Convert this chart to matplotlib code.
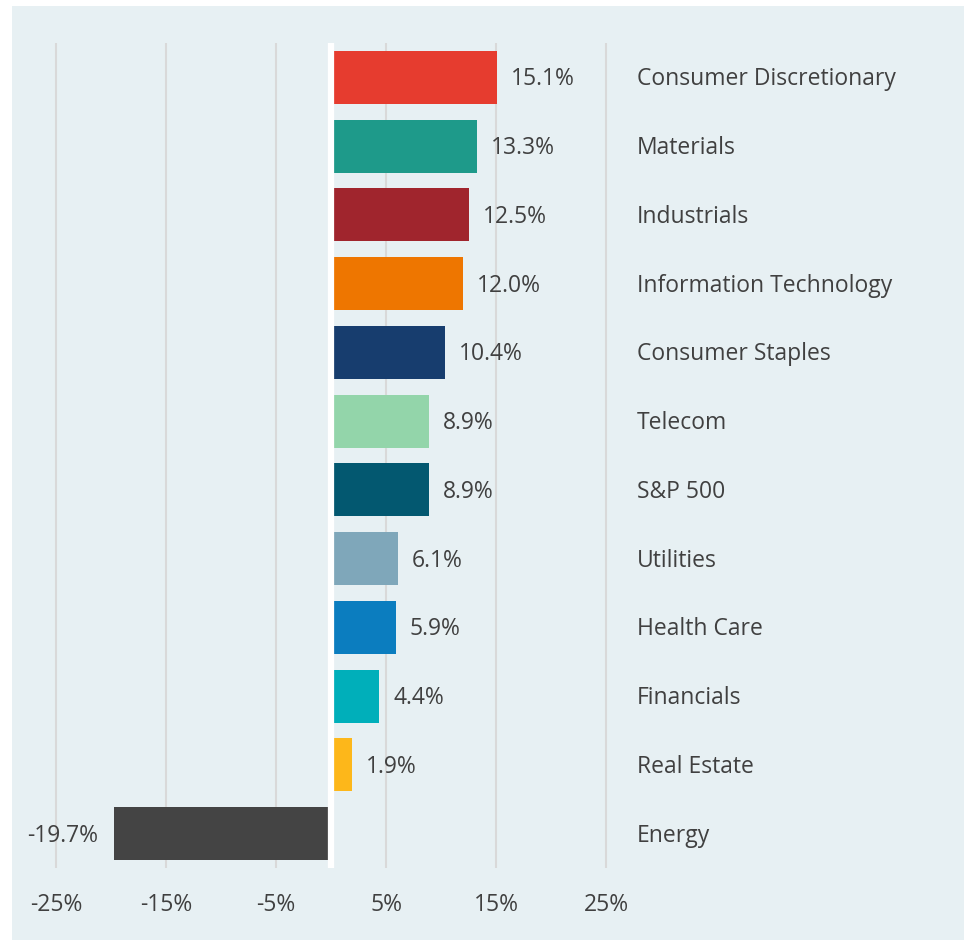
import matplotlib.pyplot as plt
from matplotlib.patches import Rectangle

sectors = ['Consumer Discretionary', 'Materials', 'Industrials', 'Information Technology',
           'Consumer Staples', 'Telecom', 'S&P 500', 'Utilities', 'Health Care',
           'Financials', 'Real Estate', 'Energy']
returns = [15.1, 13.3, 12.5, 12.0, 10.4, 8.9, 8.9, 6.1, 5.9, 4.4, 1.9, -19.7]
colors = ['#E63C2F', '#1E9A8A', '#A0252D', '#EE7600', '#173D6E', '#93D5AA',
          '#035870', '#7FA7BA', '#0B7DBF', '#00AFBA', '#FDB71A', '#444444']
ticks = [-25, -15, -5, 5, 15, 25]

txt = '#404040'
bg = '#E7F0F3'
fs = 16.5
plt.rcParams['font.family'] = ['Open Sans', 'DejaVu Sans']

fig = plt.figure(figsize=(9.64, 9.40), dpi=100, facecolor='white')
W, H = 964, 940
fig.patches.append(Rectangle((12 / W, 0), (W - 12) / W, (H - 6) / H,
                             transform=fig.transFigure, facecolor=bg,
                             edgecolor='none', zorder=-10))

# axes: x -27..27 maps to 34..628 px, y rows from 43 to 868 px
ax = fig.add_axes([34 / W, (H - 868) / H, 594 / W, 825 / H])
ax.set_facecolor('none')
ax.set_xlim(-27, 27)
ax.set_ylim(len(sectors) - 0.5, -0.5)

ys = list(range(len(sectors)))
ax.barh(ys, returns, height=0.77, color=colors, zorder=2)
ax.axvline(0, color='white', lw=4.5, zorder=3)

for x in ticks:
    ax.axvline(x, color='#D9D9D9', lw=1.5, zorder=1)

for y, v in zip(ys, returns):
    if v >= 0:
        ax.annotate(f'{v:.1f}%', (v, y), xytext=(14, -2), textcoords='offset pixels',
                    ha='left', va='center', fontsize=fs, color=txt)
    else:
        ax.annotate(f'{v:.1f}%', (v, y), xytext=(-16, -2), textcoords='offset pixels',
                    ha='right', va='center', fontsize=fs, color=txt)
    ax.annotate(sectors[y], (27.8, y), xytext=(0, -2), textcoords='offset pixels',
                ha='left', va='center', fontsize=fs, color=txt, annotation_clip=False)

ax.set_xticks(ticks)
ax.set_xticklabels([f'{t}%' for t in ticks], fontsize=fs, color=txt)
ax.set_yticks([])
ax.tick_params(axis='x', length=0, pad=18)
for s in ax.spines.values():
    s.set_visible(False)

fig.savefig('out.png', dpi=100, facecolor='white')
